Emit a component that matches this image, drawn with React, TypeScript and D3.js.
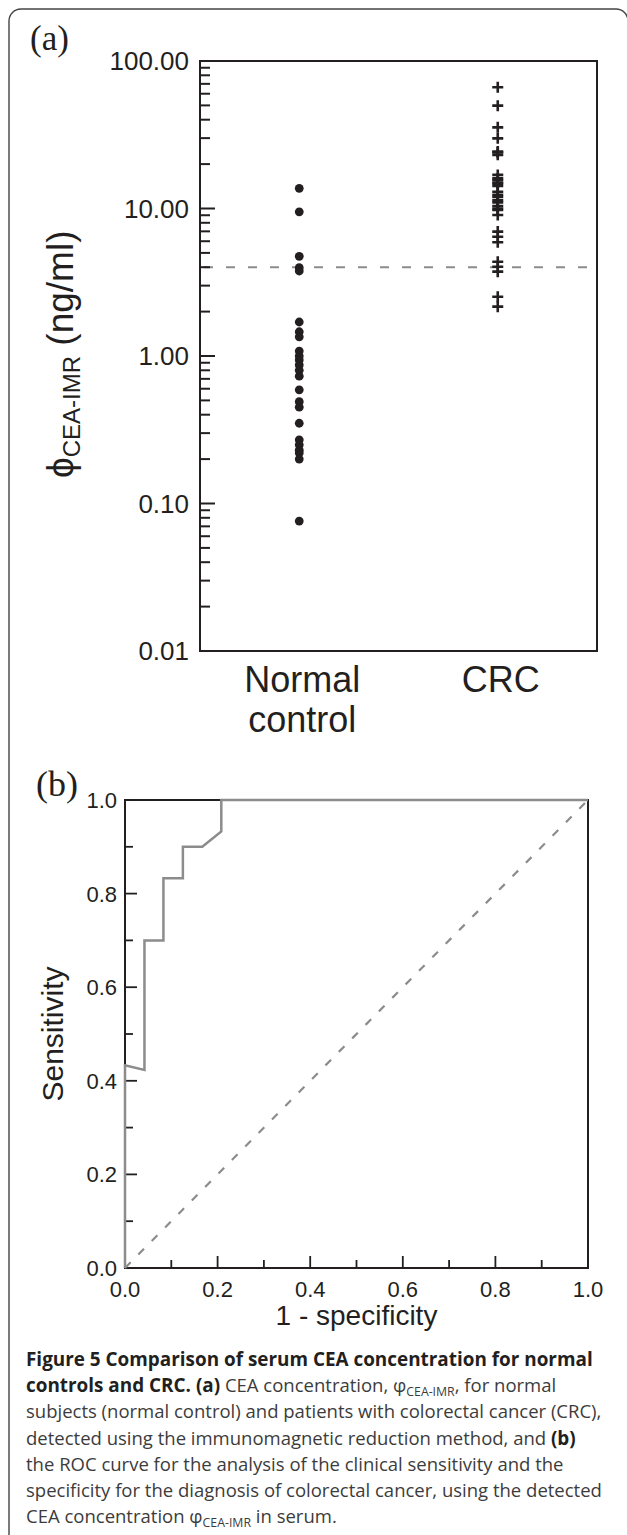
import React from "react";
import * as d3 from "d3";

// ---------- data ----------
const groups = ["Normal control", "CRC"];
const normalControl = [13.7, 9.5, 4.74, 3.97, 3.77, 1.7, 1.46, 1.35, 1.08, 1.0, 0.94, 0.87, 0.8, 0.73, 0.59, 0.49, 0.45, 0.35, 0.27, 0.25, 0.23, 0.22, 0.2, 0.076];
const crc = [66.4, 49.8, 35.5, 29.9, 24.3, 24.0, 23.1, 16.9, 16.0, 15.6, 15.0, 14.7, 14.2, 13.0, 12.4, 12.0, 11.4, 11.0, 10.4, 10.0, 9.77, 9.04, 6.97, 6.44, 5.9, 4.36, 4.03, 3.73, 2.52, 2.16];
const cutoff = 4;
const yTickValues = [100, 10, 1, 0.1, 0.01];
const yTickLabels = ["100.00", "10.00", "1.00", "0.10", "0.01"];

const rocFpr = [0, 0, 0.042, 0.042, 0.083, 0.083, 0.125, 0.125, 0.167, 0.208, 0.208, 1.0];
const rocSens = [0, 0.433, 0.423, 0.7, 0.7, 0.833, 0.833, 0.9, 0.9, 0.933, 1.0, 1.0];
const rocTickValues = [0, 0.2, 0.4, 0.6, 0.8, 1.0];
const rocTickLabels = ["0.0", "0.2", "0.4", "0.6", "0.8", "1.0"];

const AX = "'Liberation Sans', Arial, Helvetica, sans-serif";
const SERIF = "'Liberation Serif', 'Times New Roman', serif";
const CAP = "'Open Sans', 'Noto Sans', sans-serif";
const INK = "#231f20";
const GREY = "#8c8c8c";

export default function App() {
  const W = 627, H = 1535;
  const A = { left: 200, right: 597, top: 61, bottom: 651 };
  const x = d3.scalePoint<string>().domain(groups).range([A.left, A.right]).padding(0.5);
  const y = d3.scaleLog().domain([0.01, 100]).range([A.bottom, A.top]);
  const logTicks = y.ticks();
  const isMajor = (v: number) => Math.abs(Math.log10(v) - Math.round(Math.log10(v))) < 1e-6;

  const R = { left: 125, right: 588, top: 800, bottom: 1268 };
  const rx = d3.scaleLinear().domain([0, 1]).range([R.left, R.right]);
  const ry = d3.scaleLinear().domain([0, 1]).range([R.bottom, R.top]);
  const rocMinor = rx.ticks(10);
  const rocLine = d3.line<number>().x((_, i) => rx(rocFpr[i])).y((_, i) => ry(rocSens[i]));
  const diag = d3.line<number>().x((d) => rx(d)).y((d) => ry(d));

  const xN = x("Normal control")!;
  const xC = x("CRC")!;

  const capLines = [1366, 1392.2, 1418.4, 1444.6, 1470.8, 1497, 1523.2];
  const reg = "#3c3c3c";

  return (
    <svg width={W} height={H} style={{ position: "absolute", left: 0, top: 0, display: "block" }}>
      <rect x={0} y={0} width={W} height={H} fill="#fff" />
      {/* outer frame */}
      <path d={`M 9 ${H + 10} V 21 A 12 12 0 0 1 21 9 H 616 A 12 12 0 0 1 628 21 V ${H + 10}`} fill="none" stroke="#444" strokeWidth={1.4} />

      {/* ---------- panel (a) ---------- */}
      <text x={30} y={50} fontFamily={SERIF} fontSize={35} fill={INK}>(a)</text>
      {/* cutoff line */}
      <line x1={A.left + 4} x2={A.right - 4} y1={y(cutoff)} y2={y(cutoff)} stroke={GREY} strokeWidth={2} strokeDasharray="9,13" />
      {/* points */}
      {normalControl.map((v, i) => (
        <circle key={"n" + i} cx={xN} cy={y(v)} r={4.4} fill={INK} />
      ))}
      {crc.map((v, i) => (
        <path key={"c" + i} d={`M ${xC - 5.5} ${y(v)} H ${xC + 5.5} M ${xC} ${y(v) - 5.5} V ${y(v) + 5.5}`} stroke={INK} strokeWidth={2.6} fill="none" />
      ))}
      {/* frame */}
      <rect x={A.left} y={A.top} width={A.right - A.left} height={A.bottom - A.top} fill="none" stroke={INK} strokeWidth={2} />
      {/* ticks */}
      {logTicks.map((v, i) => (
        <line key={"t" + i} x1={A.left} x2={A.left + (isMajor(v) ? 15 : 10)} y1={y(v)} y2={y(v)} stroke={INK} strokeWidth={2} />
      ))}
      {yTickValues.map((v, i) => (
        <text key={"yl" + i} x={A.left - 11} y={y(v)} dy="0.36em" textAnchor="end" fontFamily={AX} fontSize={26} fill={INK}>{yTickLabels[i]}</text>
      ))}
      {/* y label */}
      <text transform={`translate(73, 478) rotate(-90)`} textAnchor="start" fontFamily={AX} fontSize={37} fill={INK}>
        <tspan>ϕ</tspan>
        <tspan fontSize={24} dy={7}>CEA-IMR</tspan>
        <tspan dy={-7}> (ng/ml)</tspan>
      </text>
      {/* category labels */}
      <text x={xN + 3} y={692} textAnchor="middle" fontFamily={AX} fontSize={36} fill={INK}>Normal</text>
      <text x={xN + 3} y={732} textAnchor="middle" fontFamily={AX} fontSize={36} fill={INK}>control</text>
      <text x={xC + 3} y={692} textAnchor="middle" fontFamily={AX} fontSize={36} fill={INK}>CRC</text>

      {/* ---------- panel (b) ---------- */}
      <text x={36} y={796} fontFamily={SERIF} fontSize={36} fill={INK}>(b)</text>
      <rect x={R.left} y={R.top} width={R.right - R.left} height={R.bottom - R.top} fill="none" stroke={INK} strokeWidth={2} />
      {rocMinor.map((v, i) => {
        const major = i % 2 === 0;
        return (
          <g key={"rt" + i}>
            <line x1={rx(v)} x2={rx(v)} y1={R.bottom} y2={R.bottom - (major ? 12 : 8)} stroke={INK} strokeWidth={1.8} />
            <line x1={R.left} x2={R.left + (major ? 12 : 8)} y1={ry(v)} y2={ry(v)} stroke={INK} strokeWidth={1.8} />
          </g>
        );
      })}
      {rocTickValues.map((v, i) => (
        <text key={"rxl" + i} x={rx(v)} y={1297} textAnchor="middle" fontFamily={AX} fontSize={22} fill={INK}>{rocTickLabels[i]}</text>
      ))}
      {rocTickValues.map((v, i) => (
        <text key={"ryl" + i} x={R.left - 8} y={ry(v)} dy="0.36em" textAnchor="end" fontFamily={AX} fontSize={22} fill={INK}>{rocTickLabels[i]}</text>
      ))}
      <path d={diag([0, 1]) || ""} fill="none" stroke={GREY} strokeWidth={2.2} strokeDasharray="8,11" />
      <path d={rocLine(rocFpr) || ""} fill="none" stroke={GREY} strokeWidth={2.5} />
      <text transform={`translate(63, ${(R.top + R.bottom) / 2}) rotate(-90)`} textAnchor="middle" fontFamily={AX} fontSize={30} fill={INK}>Sensitivity</text>
      <text x={(R.left + R.right) / 2} y={1325} textAnchor="middle" fontFamily={AX} fontSize={28} fill={INK}>1 - specificity</text>

      {/* ---------- caption ---------- */}
      <g fontFamily={CAP} fontSize={18.5}>
        <text x={26} y={capLines[0]} fontWeight="bold" fontSize={18.9} fill={INK}>Figure 5 Comparison of serum CEA concentration for normal</text>
        <text x={26} y={capLines[1]} fill={reg}>
          <tspan fontWeight="bold" fontSize={18.9} fill={INK}>controls and CRC. (a)</tspan>
          <tspan> CEA concentration, φ</tspan>
          <tspan fontSize={12.3} dy={4}>CEA-IMR</tspan>
          <tspan dy={-4}>, for normal</tspan>
        </text>
        <text x={26} y={capLines[2]} fill={reg}>subjects (normal control) and patients with colorectal cancer (CRC),</text>
        <text x={26} y={capLines[3]} fill={reg}>
          <tspan>detected using the immunomagnetic reduction method, and </tspan>
          <tspan fontWeight="bold" fontSize={18.9} fill={INK}>(b)</tspan>
        </text>
        <text x={26} y={capLines[4]} fill={reg}>the ROC curve for the analysis of the clinical sensitivity and the</text>
        <text x={26} y={capLines[5]} fill={reg}>specificity for the diagnosis of colorectal cancer, using the detected</text>
        <text x={26} y={capLines[6]} fill={reg}>
          <tspan>CEA concentration φ</tspan>
          <tspan fontSize={12.3} dy={4}>CEA-IMR</tspan>
          <tspan dy={-4}> in serum.</tspan>
        </text>
      </g>
    </svg>
  );
}
